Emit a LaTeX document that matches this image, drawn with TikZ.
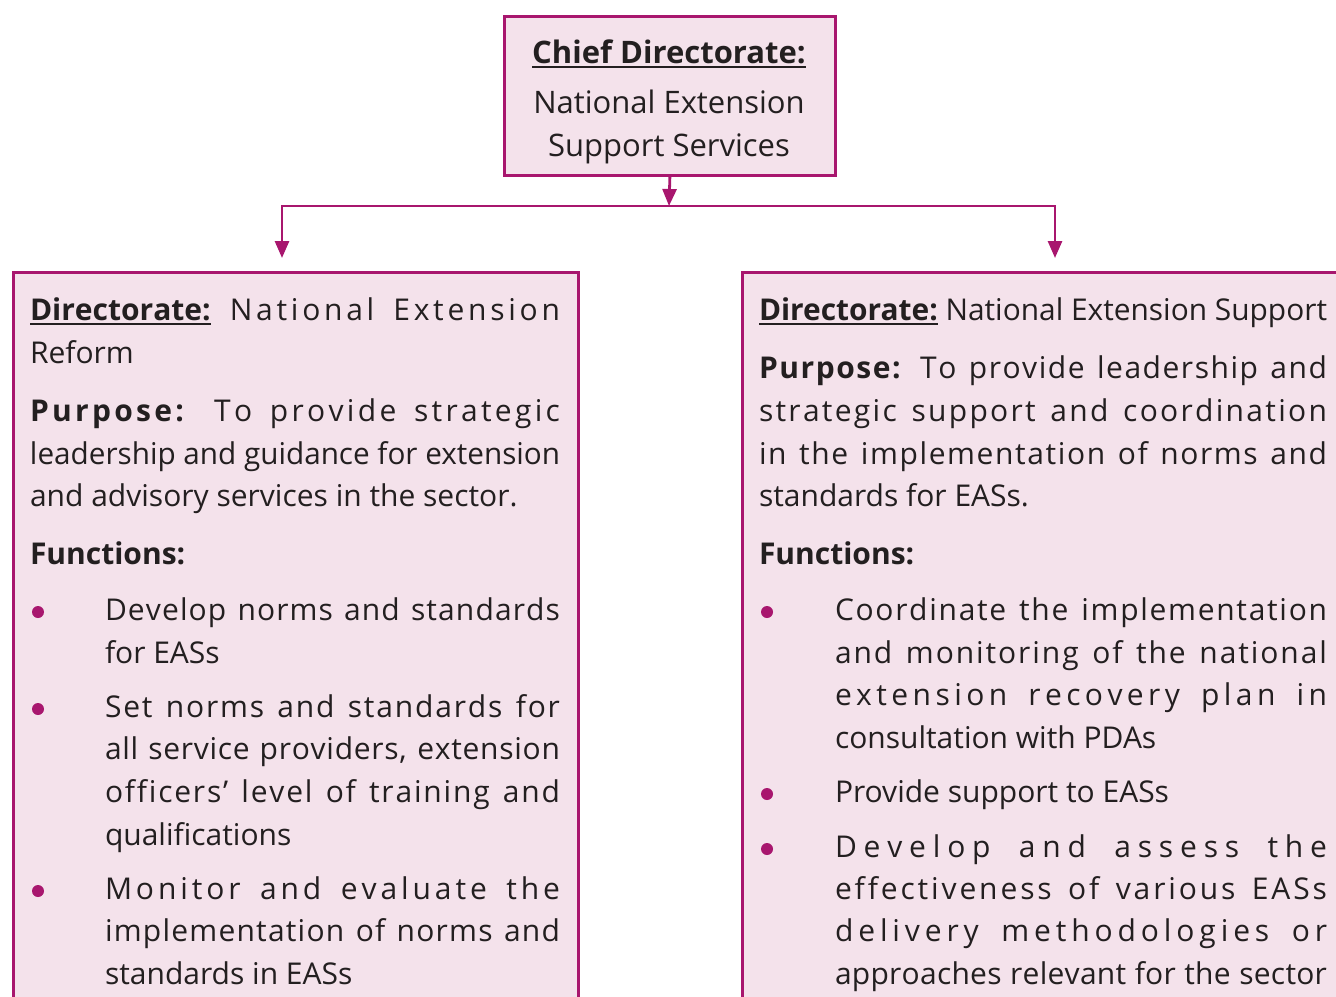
\documentclass[tikz,border=0pt]{standalone}
\usepackage{fontspec}
\usepackage{graphicx}
\setmainfont{Open Sans}
\usetikzlibrary{arrows.meta}
\definecolor{mag}{HTML}{A8166E}
\definecolor{pinkfill}{HTML}{F4E2EB}
\definecolor{ink}{HTML}{231F20}
\newsavebox\jbox
\newsavebox\ulbox
\newXeTeXintercharclass\lsc
\makeatletter
\newcommand\setlsrange[2]{\@tempcnta=#1\relax\loop\XeTeXcharclass\@tempcnta=\lsc\relax\ifnum\@tempcnta<#2\relax\advance\@tempcnta by 1\relax\repeat}
\setlsrange{`A}{`Z}
\setlsrange{`a}{`z}
\makeatother
\XeTeXcharclass`\,=\lsc
\XeTeXcharclass`\.=\lsc
\XeTeXcharclass`\:=\lsc
\XeTeXcharclass`\’=\lsc
\XeTeXinterchartoks\lsc\lsc={\hskip0pt plus 1pt\relax}
\newcommand\myul[1]{\sbox\ulbox{#1}\rlap{\rule[-5pt]{\wd\ulbox}{2pt}}\usebox\ulbox}
\newcommand\jline[2]{\sbox\jbox{\spaceskip=7.8pt plus 3pt\relax #2}%
  \ifdim\wd\jbox>#1\relax\resizebox{#1}{\ht\jbox}{\usebox\jbox}%
  \else\makebox[#1][s]{\XeTeXinterchartokenstate=1\relax\spaceskip=7.8pt plus 3pt\relax #2}\fi}
\tikzset{
  txt/.style={inner sep=0pt, outer sep=0pt, anchor=base west, text=ink, font=\fontsize{30pt}{36pt}\selectfont},
  toptxt/.style={txt, anchor=base, font=\fontsize{31pt}{37pt}\selectfont},
  box/.style={draw=mag, fill=pinkfill, line width=2.8pt, inner sep=0pt, anchor=north west},
  conn/.style={draw=mag, line width=2.8pt},
  tip/.style={-{Triangle[length=17pt,width=14pt]}},
  bul/.style={circle, fill=mag, inner sep=0pt, minimum size=12pt},
}
\begin{document}
\begin{tikzpicture}[x=1pt,y=-1pt]
\useasboundingbox (0,0) rectangle (1336,996);
\clip (0,0) rectangle (1336,996);
% boxes
\node[box, minimum width=331pt, minimum height=159pt] (chief) at (503,15) {};
\node[box, minimum width=565pt, minimum height=780pt] (left) at (12,271) {};
\node[box, minimum width=640pt, minimum height=780pt] (right) at (741,271) {};
% connectors
\coordinate (hub) at (669,206);
\coordinate (tl) at (282,258);
\coordinate (tr) at (1055,258);
\draw[conn, tip] (chief.south) -- (hub);
\draw[conn, {Triangle[length=17pt,width=14pt]}-{Triangle[length=17pt,width=14pt]}] (tl) |- (hub) -| (tr);
% top box text
\node[toptxt] (t1) at (669,63) {\myul{\textbf{Chief Directorate:}}};
\node[toptxt] (t2) at (669,113) {National Extension};
\node[toptxt] (t3) at (669,156) {Support Services};
% left box
\node[txt] (L1) at (30,320) {\jline{530pt}{\myul{\textbf{Directorate:}} National Extension}};
\node[txt] (L2) at (30,363) {Reform};
\node[txt] (L3) at (30,421) {\jline{530pt}{\textbf{Purpose:} To provide strategic}};
\node[txt] (L4) at (30,464) {\jline{530pt}{leadership and guidance for extension}};
\node[txt] (L5) at (30,506) {and advisory services in the sector.};
\node[txt] (L6) at (30,564) {\textbf{Functions:}};
\node[bul] (lb1) at (38,612) {};
\node[bul] (lb2) at (38,709) {};
\node[bul] (lb3) at (38,891) {};
\node[txt] (L7) at (105,620) {\jline{455pt}{Develop norms and standards}};
\node[txt] (L8) at (105,663) {for EASs};
\node[txt] (L9) at (105,717) {\jline{455pt}{Set norms and standards for}};
\node[txt] (L10) at (105,759) {\jline{455pt}{all service providers, extension}};
\node[txt] (L11) at (105,802) {\jline{455pt}{officers’ level of training and}};
\node[txt] (L12) at (105,845) {qualifications};
\node[txt] (L13) at (105,899) {\jline{455pt}{Monitor and evaluate the}};
\node[txt] (L14) at (105,941) {\jline{455pt}{implementation of norms and}};
\node[txt] (L15) at (105,984) {standards in EASs};
% right box
\node[txt] (R1) at (759,320) {\jline{568pt}{\myul{\textbf{Directorate:}} National Extension Support}};
\node[txt] (R2) at (759,378) {\jline{568pt}{\textbf{Purpose:} To provide leadership and}};
\node[txt] (R3) at (759,421) {\jline{568pt}{strategic support and coordination}};
\node[txt] (R4) at (759,464) {\jline{568pt}{in the implementation of norms and}};
\node[txt] (R5) at (759,506) {standards for EASs.};
\node[txt] (R6) at (759,564) {\textbf{Functions:}};
\node[bul] (rb1) at (767,612) {};
\node[bul] (rb2) at (767,794) {};
\node[bul] (rb3) at (767,849) {};
\node[txt] (R7) at (835,620) {\jline{492pt}{Coordinate the implementation}};
\node[txt] (R8) at (835,663) {\jline{492pt}{and monitoring of the national}};
\node[txt] (R9) at (835,705) {\jline{492pt}{extension recovery plan in}};
\node[txt] (R10) at (835,748) {consultation with PDAs};
\node[txt] (R11) at (835,802) {Provide support to EASs};
\node[txt] (R12) at (835,857) {\jline{492pt}{Develop and assess the}};
\node[txt] (R13) at (835,899) {\jline{492pt}{effectiveness of various EASs}};
\node[txt] (R14) at (835,941) {\jline{492pt}{delivery methodologies or}};
\node[txt] (R15) at (835,984) {\jline{492pt}{approaches relevant for the sector}};
\end{tikzpicture}
\end{document}
